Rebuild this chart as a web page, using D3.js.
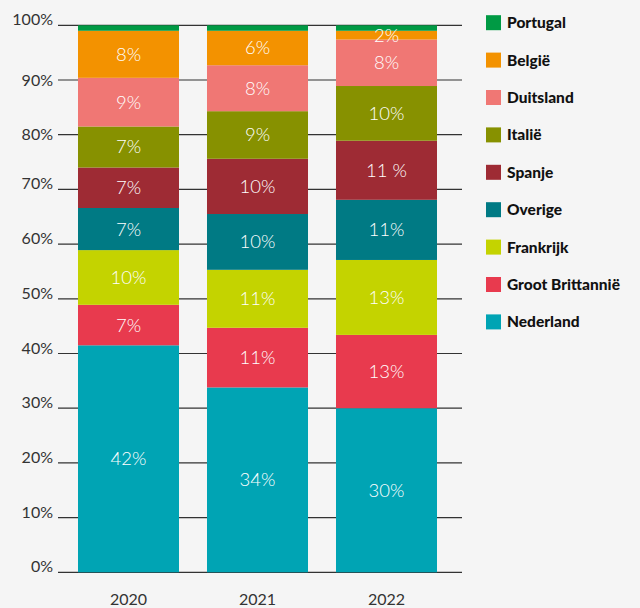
<!DOCTYPE html>
<html>
<head>
<meta charset="utf-8">
<script src="https://cdn.jsdelivr.net/npm/d3@7"></script>
<style>
  body { margin: 0; background: #f5f5f5; }
  svg { display: block; font-family: Lato, "Open Sans", sans-serif; }
  .tick-label { font-size: 16px; fill: #333; }
  .seg-label { font-size: 18.5px; fill: #fff; font-weight: 300; }
  .legend-label { font-size: 15.5px; font-weight: 900; fill: #111; }
</style>
</head>
<body>
<svg id="chart" width="640" height="608"></svg>
<script>
/* data (percent of each year) */
const years = ['2020', '2021', '2022'];
const countries = ['Nederland', 'Groot Brittannië', 'Frankrijk', 'Overige', 'Spanje', 'Italië', 'Duitsland', 'België', 'Portugal'];
const colors = ['#00a4b4', '#e83a4e', '#c4d300', '#007a84', '#9e2b34', '#879100', '#f07774', '#f39200', '#009a44'];

const nederland  = [41.5, 33.8, 30.0];
const grootBrit  = [7.4, 10.9, 13.4];
const frankrijk  = [10.0, 10.6, 13.7];
const overige    = [7.7, 10.2, 11.0];
const spanje     = [7.4, 10.1, 10.8];
const italie     = [7.5, 8.7, 10.0];
const duitsland  = [8.9, 8.4, 8.5];
const belgie     = [8.6, 6.3, 1.6];
const portugal   = [1.0, 1.0, 1.0];

// printed labels (as in the original, null = no label)
const labels2020 = ['42%', '7%', '10%', '7%', '7%', '7%', '9%', '8%', null];
const labels2021 = ['34%', '11%', '11%', '10%', '10%', '9%', '8%', '6%', null];
const labels2022 = ['30%', '13%', '13%', '11%', '11 %', '10%', '8%', '2%', null];

const yTicks = [0, 10, 20, 30, 40, 50, 60, 70, 80, 90, 100];
const midTicks = [80, 90]; // these two labels sit centred on their line in the original

let svg = d3.select('#chart');

let series = [nederland, grootBrit, frankrijk, overige, spanje, italie, duitsland, belgie, portugal];
let labels = [labels2020, labels2021, labels2022];
let table = years.map((yr, i) => {
    let row = { year: yr };
    countries.forEach((c, k) => { row[c] = series[k][i]; });
    return row;
});

let stacked = d3.stack().keys(countries)(table);

const xScale = d3.scaleBand()
    .domain(years)
    .range([78, 437])
    .paddingInner(0.217)
    .paddingOuter(0);

const yScale = d3.scaleLinear()
    .domain([0, 100])
    .range([572.3, 25.3]);

// grid lines + tick labels
let grid = svg.append('g');
grid.selectAll('line').data(yTicks).join('line')
    .attr('x1', 58).attr('x2', 462)
    .attr('y1', d => yScale(d)).attr('y2', d => yScale(d))
    .attr('stroke', '#333').attr('stroke-width', 1.2);
grid.selectAll('text').data(yTicks).join('text')
    .classed('tick-label', true)
    .attr('x', 53).attr('y', d => yScale(d))
    .attr('dy', d => midTicks.includes(d) ? '0.35em' : '0')
    .attr('text-anchor', 'end')
    .text(d => d + '%');

// bars
let bars = svg.append('g');
stacked.forEach((s, k) => {
    bars.append('g').attr('fill', colors[k])
        .selectAll('rect').data(s).join('rect')
        .attr('x', d => xScale(d.data.year))
        .attr('width', xScale.bandwidth())
        .attr('y', d => yScale(d[1]))
        .attr('height', d => yScale(d[0]) - yScale(d[1]));
});

// segment labels
let segLabels = svg.append('g');
stacked.forEach((s, k) => {
    s.forEach((d, i) => {
        let t = labels[i][k];
        if (!t) return;
        segLabels.append('text').classed('seg-label', true)
            .attr('x', xScale(d.data.year) + xScale.bandwidth() / 2)
            .attr('y', (yScale(d[0]) + yScale(d[1])) / 2)
            .attr('dy', '0.35em')
            .attr('text-anchor', 'middle')
            .text(t);
    });
});

// x axis labels
svg.append('g').selectAll('text').data(years).join('text')
    .classed('tick-label', true)
    .attr('x', d => xScale(d) + xScale.bandwidth() / 2)
    .attr('y', 604.5)
    .attr('text-anchor', 'middle')
    .text(d => d);

// legend (top = Portugal)
let legend = svg.append('g');
let legendOrder = countries.map((c, k) => k).reverse();
legendOrder.forEach((k, j) => {
    let cy = 22.7 + j * 37.4;
    legend.append('rect').attr('x', 486).attr('y', cy - 7.5)
        .attr('width', 15).attr('height', 15).attr('fill', colors[k]);
    legend.append('text').classed('legend-label', true)
        .attr('x', 507).attr('y', cy).attr('dy', '0.35em')
        .text(countries[k]);
});
</script>
</body>
</html>
